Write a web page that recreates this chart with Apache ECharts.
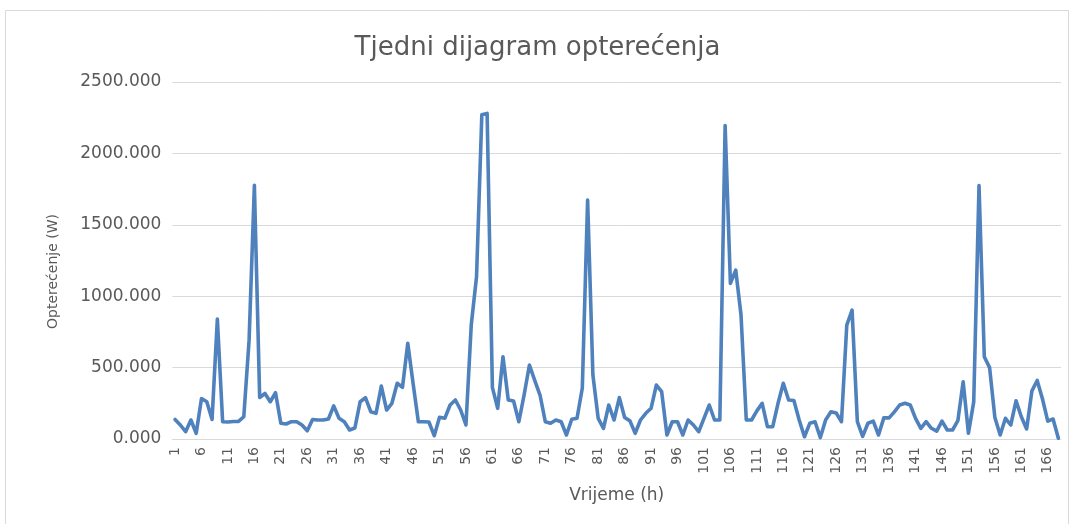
<!DOCTYPE html>
<html>
<head>
<meta charset="utf-8">
<script src="https://cdn.jsdelivr.net/npm/echarts@6/dist/echarts.min.js"></script>
<style>
html,body{margin:0;padding:0;background:#fff;}
#chart{width:1075px;height:524px;}
</style>
</head>
<body>
<div id="chart"></div>
<script>
const titleText = 'Tjedni dijagram opterećenja';
const yAxisName = 'Opterećenje (W)';
const xAxisName = 'Vrijeme (h)';
const hours = [];
for (let h = 1; h <= 168; h++) hours.push(String(h));
const load = [
  137, 98, 51, 133, 40, 284, 261, 137, 840, 121,
  119, 123, 123, 156, 692, 1776, 291, 319, 261, 324,
  110, 105, 121, 121, 98, 58, 137, 133, 133, 140,
  232, 145, 121, 63, 77, 261, 289, 191, 180, 371,
  203, 250, 390, 362, 670, 390, 121, 121, 119, 23,
  152, 145, 238, 273, 203, 98, 798, 1136, 2270, 2280,
  360, 215, 576, 273, 266, 121, 310, 518, 410, 308,
  121, 110, 133, 121, 28, 138, 145, 357, 1673, 448,
  145, 75, 238, 133, 290, 150, 127, 40, 133, 180,
  215, 378, 331, 28, 121, 121, 28, 133, 98, 51,
  145, 238, 133, 133, 2195, 1090, 1183, 870, 133, 133,
  197, 250, 86, 86, 250, 390, 273, 270, 133, 16,
  110, 121, 10, 133, 191, 182, 121, 798, 902, 121,
  18, 110, 125, 28, 148, 148, 190, 238, 250, 238,
  145, 75, 121, 75, 55, 125, 63, 63, 128, 401,
  40, 260, 1775, 576, 500, 150, 28, 145, 98, 267,
  156, 70, 337, 410, 280, 125, 140, 5
];
const yTicks = [0, 500, 1000, 1500, 2000, 2500];

const chart = echarts.init(document.getElementById('chart'), null, {renderer: 'canvas'});
const textColor = '#595959';
const fontFam = '"DejaVu Sans", "Liberation Sans", sans-serif';
chart.setOption({
  backgroundColor: '#ffffff',
  animation: false,
  graphic: [{
    type: 'rect',
    shape: {x: 5.5, y: 10.5, width: 1063, height: 530},
    style: {fill: 'none', stroke: '#d9d9d9', lineWidth: 1},
    silent: true
  }],
  title: {
    text: titleText,
    left: 'center',
    top: 30,
    textStyle: {color: textColor, fontSize: 26, fontWeight: 'normal', fontFamily: fontFam}
  },
  grid: {left: 172.4, right: 14, top: 82, bottom: 85, containLabel: false},
  xAxis: {
    type: 'category',
    data: hours,
    boundaryGap: true,
    name: xAxisName,
    nameLocation: 'middle',
    nameGap: 48,
    nameTextStyle: {color: textColor, fontSize: 17, fontFamily: fontFam},
    axisLine: {show: true, lineStyle: {color: '#d9d9d9', width: 1}},
    axisTick: {show: false},
    axisLabel: {
      interval: 4,
      rotate: 90,
      color: textColor,
      fontSize: 14,
      fontFamily: fontFam,
      margin: 8
    },
    splitLine: {show: false}
  },
  yAxis: {
    type: 'value',
    min: yTicks[0],
    max: yTicks[yTicks.length - 1],
    interval: 500,
    name: yAxisName,
    nameLocation: 'middle',
    nameGap: 112,
    nameTextStyle: {color: textColor, fontSize: 14, fontFamily: fontFam, padding: [0, 22, 0, 0]},
    axisLine: {show: false},
    axisTick: {show: false},
    axisLabel: {
      color: textColor,
      fontSize: 17,
      fontFamily: fontFam,
      margin: 11,
      formatter: v => v.toFixed(3)
    },
    splitLine: {lineStyle: {color: '#d9d9d9', width: 1}}
  },
  series: [{
    type: 'line',
    data: load,
    symbol: 'none',
    smooth: false,
    lineStyle: {color: '#4f81bd', width: 3.6, join: 'round', cap: 'round'},
    itemStyle: {color: '#4f81bd'}
  }]
});
</script>
</body>
</html>
